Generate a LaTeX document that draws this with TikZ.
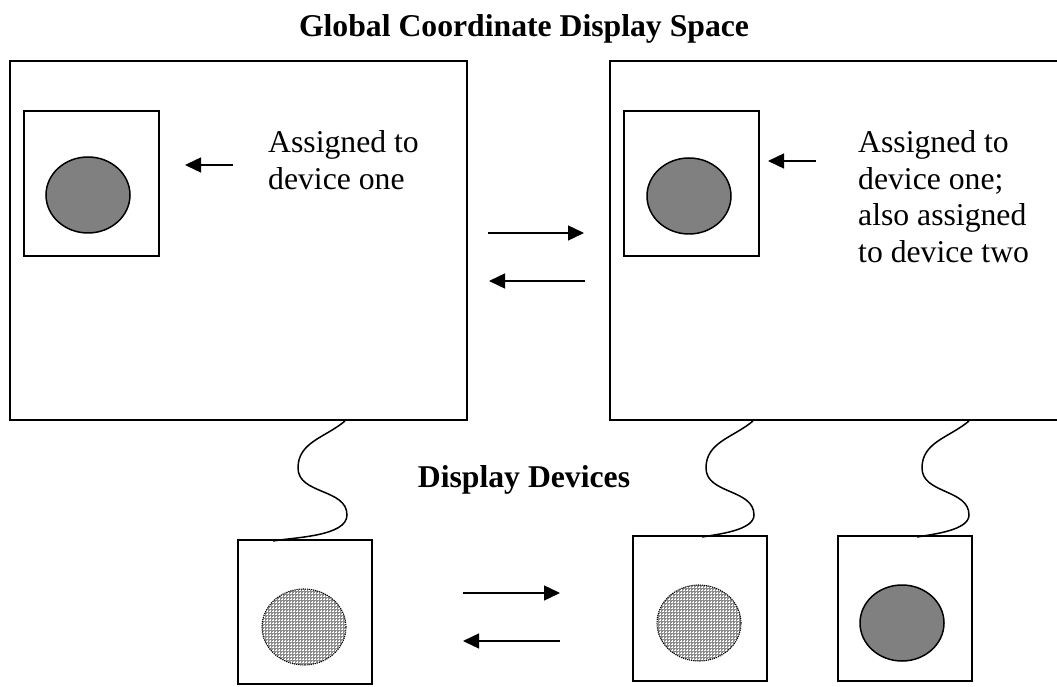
\documentclass[tikz,border=0pt]{standalone}
\usepackage{fontspec}
\setmainfont{Liberation Serif}
\usetikzlibrary{arrows.meta,patterns,shapes.geometric}
\definecolor{spotgray}{HTML}{808080}

\begin{document}
\begin{tikzpicture}[x=1pt,y=1pt,
  panel/.style={draw, line width=1.8pt, anchor=south west, inner sep=0pt},
  spot/.style={ellipse, draw, line width=1.5pt, fill=spotgray,
    minimum width=84pt, minimum height=76pt, inner sep=0pt},
  mirror/.style={ellipse, draw, densely dotted, line width=1.1pt,
    minimum width=84pt, minimum height=76pt, inner sep=0pt,
    preaction={fill=black!45}, pattern=grid, pattern color=white},
  flow/.style={line width=1.4pt, -{Triangle[length=16pt,width=15pt]}},
  cable/.style={line width=1.5pt},
  caption/.style={font=\fontsize{31.7}{36.7}\selectfont, align=left,
    anchor=north west, inner sep=0pt},
  heading/.style={font=\fontsize{31.7}{36.7}\selectfont\bfseries,
    anchor=base, inner sep=0pt}]

\useasboundingbox (0,0) rectangle (1057,686);
\clip (0,0) rectangle (1057,686);

% coordinate space
\node[heading] (title) at (524,649) {Global Coordinate Display Space};

\node[panel, minimum width=457pt, minimum height=359pt] (spaceA) at (9,265) {};
\node[panel, minimum width=470pt, minimum height=359pt] (spaceB) at (609,265) {};

\node[panel, minimum width=135pt, minimum height=145pt] (winA) at (23,429) {};
\node[panel, minimum width=135pt, minimum height=145pt] (winB) at (623,429) {};
\node[spot] (objA) at (88,491) {};
\node[spot] (objB) at (689,490) {};

\node[caption] (noteA) at (268,555.7) {Assigned to\\device one};
\node[caption] (noteB) at (858,555.7) {Assigned to\\device one;\\also assigned\\to device two};

\coordinate (pA1) at (233,521);
\coordinate (pA2) at (185,521);
\draw[flow] (pA1) -- (pA2);
\coordinate (pB1) at (816,525);
\coordinate (pB2) at (768,525);
\draw[flow] (pB1) -- (pB2);

\coordinate (mR1) at (488,453);
\coordinate (mR2) at (584,453);
\draw[flow] (mR1) -- (mR2);
\coordinate (mL1) at (585,405);
\coordinate (mL2) at (489,405);
\draw[flow] (mL1) -- (mL2);

% display devices
\node[heading] (devices) at (524,198.5) {Display Devices};

\node[panel, minimum width=134pt, minimum height=144pt] (devA) at (237,1) {};
\node[panel, minimum width=134pt, minimum height=145pt] (devB) at (632,4) {};
\node[panel, minimum width=134pt, minimum height=145pt] (devC) at (837,4) {};
\node[mirror] (imgA) at (304,59) {};
\node[mirror] (imgB) at (699,63) {};
\node[spot] (imgC) at (902,63) {};

\coordinate (dR1) at (463,93);
\coordinate (dR2) at (560,93);
\draw[flow] (dR1) -- (dR2);
\coordinate (dL1) at (560,45);
\coordinate (dL2) at (463,45);
\draw[flow] (dL1) -- (dL2);

% cables
\coordinate (cAs) at (345,265);
\coordinate (cAe) at (273,145);
\draw[cable] (cAs) to[out=220,in=90] ++(-47,-47) to[out=270,in=90] ++(49,-47)
  to[out=270,in=10,looseness=0.7] (cAe);
\coordinate (cBs) at (753,265);
\coordinate (cBe) at (702,149);
\draw[cable] (cBs) to[out=220,in=90] ++(-47,-47) to[out=270,in=90] ++(48,-47)
  to[out=270,in=10,looseness=0.7] (cBe);
\coordinate (cCs) at (969,265);
\coordinate (cCe) at (917,149);
\draw[cable] (cCs) to[out=220,in=90] ++(-47,-47) to[out=270,in=90] ++(47,-47)
  to[out=270,in=10,looseness=0.7] (cCe);
\end{tikzpicture}
\end{document}
